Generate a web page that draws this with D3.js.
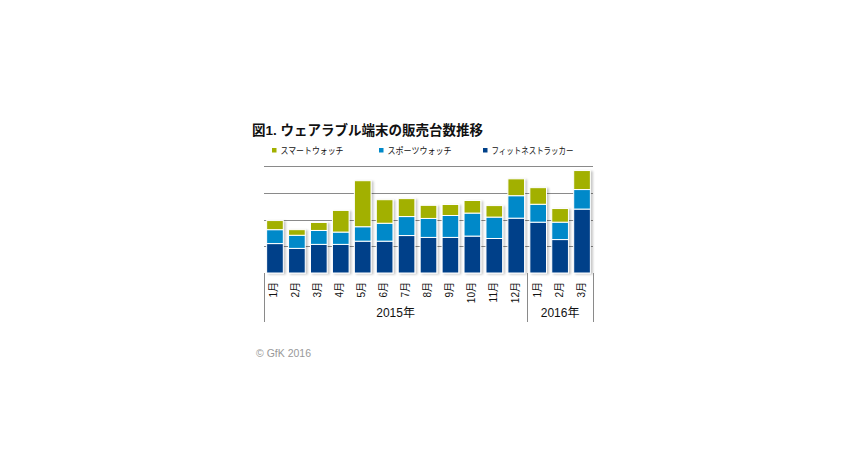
<!DOCTYPE html>
<html>
<head>
<meta charset="utf-8">
<script src="https://cdn.jsdelivr.net/npm/d3@7"></script>
<style>
  body { margin: 0; background: #fff; }
  text { font-family: "Liberation Sans", Arial, "Noto Sans CJK JP", sans-serif; }
</style>
</head>
<body>
<div id="chart"></div>
<script>
// dati (unità = una linea della griglia)
const months = ["1月","2月","3月","4月","5月","6月","7月","8月","9月","10月","11月","12月","1月","2月","3月"];
const years = ["2015年","2016年"];
const fitness = [1.10,0.92,1.07,1.07,1.19,1.19,1.40,1.33,1.33,1.38,1.29,2.05,1.90,1.25,2.39];
const sports  = [0.52,0.49,0.52,0.46,0.54,0.67,0.71,0.71,0.82,0.86,0.80,0.84,0.67,0.65,0.73];
const smart   = [0.34,0.21,0.30,0.81,1.72,0.88,0.67,0.49,0.41,0.47,0.43,0.63,0.62,0.51,0.71];
const seriesNames = ["スマートウォッチ","スポーツウォッチ","フィットネストラッカー"];
const gridTicks = [1,2,3,4];

let width = 850, height = 470;

let svg = d3.select("#chart").append("svg")
  .attr("width", width)
  .attr("height", height);

let defs = svg.append("defs");
let filter = defs.append("filter").attr("id", "shadow")
  .attr("x", "-20%").attr("y", "-20%").attr("width", "150%").attr("height", "150%");
filter.append("feDropShadow")
  .attr("dx", 2).attr("dy", 1).attr("stdDeviation", 0.8)
  .attr("flood-color", "#000").attr("flood-opacity", 0.22);

let colors = d3.scaleOrdinal()
  .domain(["fitness","sports","smart"])
  .range(["#004189","#0089c9","#a2b000"]);

let x = d3.scaleBand()
  .domain(d3.range(months.length))
  .range([264, 593])
  .paddingInner(0.24)
  .paddingOuter(0.12);

let y = d3.scaleLinear()
  .domain([0, 4])
  .range([273, 166]);

// titolo
svg.append("text")
  .attr("x", 252).attr("y", 135)
  .attr("font-size", 13.5).attr("font-weight", "bold")
  .attr("fill", "#111")
  .text("図1. ウェアラブル端末の販売台数推移");

// legenda
let legendX = [272, 379, 483];
let legendLen = [63, 64, 82];
let legendKeys = ["smart","sports","fitness"];
legendKeys.forEach(function(k, i) {
  svg.append("rect")
    .attr("x", legendX[i]).attr("y", 148)
    .attr("width", 4.5).attr("height", 4.5)
    .attr("fill", colors(k));
  svg.append("text")
    .attr("x", legendX[i] + 8.5).attr("y", 153.5)
    .attr("font-size", 9)
    .attr("textLength", legendLen[i])
    .attr("lengthAdjust", "spacingAndGlyphs")
    .attr("fill", "#111")
    .text(seriesNames[i]);
});

// griglia
svg.append("g").selectAll("line")
  .data(gridTicks)
  .enter().append("line")
  .attr("x1", 264).attr("x2", 593)
  .attr("y1", d => Math.round(y(d)) + 0.5)
  .attr("y2", d => Math.round(y(d)) + 0.5)
  .attr("stroke", "#8a8a8a")
  .attr("stroke-width", 1);

// barre impilate
let data = months.map(function(m, i) {
  return { i: i, fitness: fitness[i], sports: sports[i], smart: smart[i] };
});

let stack = d3.stack().keys(["fitness","sports","smart"]);
let series = stack(data);

let barG = svg.append("g").selectAll("g.bar")
  .data(data)
  .enter().append("g")
  .classed("bar", true)
  .attr("filter", "url(#shadow)");

barG.each(function(d, i) {
  let g = d3.select(this);
  series.forEach(function(s) {
    let seg = s[i];
    g.append("rect")
      .attr("x", x(i))
      .attr("y", y(seg[1]))
      .attr("width", x.bandwidth())
      .attr("height", y(seg[0]) - y(seg[1]))
      .attr("fill", colors(s.key))
      .attr("stroke", "#fff")
      .attr("stroke-width", 1);
  });
});

// etichette dei mesi
svg.append("g").selectAll("text")
  .data(months)
  .enter().append("text")
  .attr("transform", (d, i) => "translate(" + (x(i) + x.bandwidth() / 2 - 1) + ",282) rotate(-90)")
  .attr("text-anchor", "end")
  .attr("dy", "0.35em")
  .attr("font-size", 10)
  .attr("fill", "#111")
  .text(d => d);

// separatori degli anni
let yearBounds = [0, 12, 15];
let bx = function(k) { return k === 0 ? 264 : (k === months.length ? 593 : x(k) - x.step() * x.paddingInner() / 2); };
svg.append("g").selectAll("line")
  .data(yearBounds)
  .enter().append("line")
  .attr("x1", d => Math.round(bx(d)) + 0.5)
  .attr("x2", d => Math.round(bx(d)) + 0.5)
  .attr("y1", 273).attr("y2", 322)
  .attr("stroke", "#8a8a8a")
  .attr("stroke-width", 1);

svg.append("g").selectAll("text")
  .data(years)
  .enter().append("text")
  .attr("x", (d, i) => (bx(yearBounds[i]) + bx(yearBounds[i + 1])) / 2)
  .attr("y", 317)
  .attr("text-anchor", "middle")
  .attr("font-size", 12)
  .attr("fill", "#111")
  .text(d => d);

// copyright
svg.append("text")
  .attr("x", 256).attr("y", 357)
  .attr("font-size", 10.5)
  .attr("fill", "#999")
  .text("© GfK 2016");
</script>
</body>
</html>
